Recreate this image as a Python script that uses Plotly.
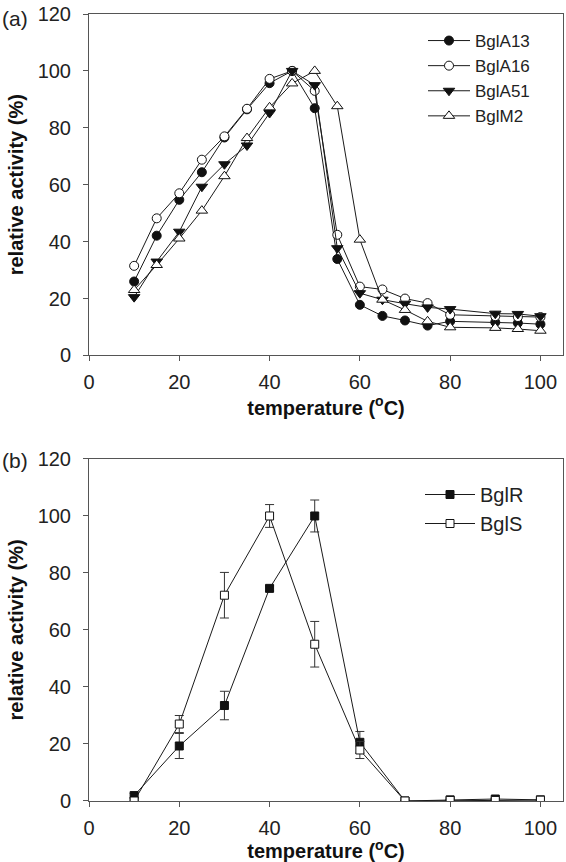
import plotly.graph_objects as go

# ---------------- data: panel (a) ----------------
temp_a = [10, 15, 20, 25, 30, 35, 40, 45, 50, 55, 60, 65, 70, 75, 80, 90, 95, 100]
bglA13 = [26, 42.1, 54.7, 64.4, 76.6, 86.5, 95.7, 100, 86.9, 33.9, 17.8, 13.9, 12.3, 10.5, 12.0, 11.7, 11.4, 11.0]
bglA16 = [31.5, 48.2, 57.0, 68.8, 77.0, 86.7, 97.2, 100, 93.0, 42.4, 24.2, 23.2, 20.0, 18.4, 14.3, 13.8, 13.5, 13.5]
bglA51 = [20.5, 33.0, 43.5, 59.3, 67.2, 73.8, 85.2, 100, 95.0, 37.7, 21.9, 19.6, 18.2, 16.9, 16.3, 14.7, 14.6, 13.8]
bglM2 = [23.0, 31.8, 41.1, 50.9, 63.0, 76.4, 87.2, 95.6, 100, 87.6, 40.7, 19.6, 16.0, 12.0, 9.9, 9.7, 9.3, 8.7]

# ---------------- data: panel (b) ----------------
temp_b = [10, 20, 30, 40, 50, 60, 70, 80, 90, 100]
bglR = [1.9, 19.3, 33.5, 74.6, 100, 20.6, 0.0, 0.4, 0.7, 0.4]
bglR_err = [0.8, 4.4, 5.0, 0.9, 5.6, 3.8, 0.2, 0.2, 0.2, 0.2]
bglS = [0.0, 27.0, 72.2, 100, 55.0, 17.9, 0.0, 0.2, 0.2, 0.3]
bglS_err = [0.2, 3.0, 8.0, 4.0, 8.0, 3.0, 0.2, 0.2, 0.2, 0.2]

x_ticks = [0, 20, 40, 60, 80, 100]
y_ticks = [0, 20, 40, 60, 80, 100, 120]

FONT = "Arial, Liberation Sans, sans-serif"
LINE = "#1a1a1a"
AX = "#555555"

fig = go.Figure()


def add(x, y, name, symbol, fill, xa, ya, legend, size, err=None):
    kw = {}
    if err is not None:
        kw["error_y"] = dict(type="data", array=err, visible=True, color="#333333",
                             thickness=1, width=4.5)
    fig.add_trace(go.Scatter(
        x=x, y=y, name=name, mode="lines+markers",
        xaxis=xa, yaxis=ya, legend=legend,
        line=dict(color=LINE, width=1),
        marker=dict(symbol=symbol, size=size, color=fill,
                    line=dict(color="#111111", width=1)),
        **kw))


add(temp_a, bglA13, "BglA13", "circle", "#111111", "x", "y", "legend", 9)
add(temp_a, bglA16, "BglA16", "circle", "white", "x", "y", "legend", 9)
add(temp_a, bglA51, "BglA51", "triangle-down", "#111111", "x", "y", "legend", 10)
add(temp_a, bglM2, "BglM2", "triangle-up", "white", "x", "y", "legend", 10)

add(temp_b, bglR, "BglR", "square", "#111111", "x2", "y2", "legend2", 8, bglR_err)
add(temp_b, bglS, "BglS", "square", "white", "x2", "y2", "legend2", 8, bglS_err)

axis_common = dict(showline=True, linecolor=AX, linewidth=1, mirror=True,
                   ticks="outside", ticklen=5, tickcolor=AX, tickwidth=1,
                   showgrid=False, zeroline=False,
                   tickfont=dict(family=FONT, size=20, color="#222222"))

title_font = dict(family=FONT, size=20, color="#111111")
XT = "<b>temperature (<sup>o</sup>C)</b>"
YT = "<b>relative activity (%)</b>"

fig.update_layout(
    width=566, height=862,
    margin=dict(l=89, r=3, t=14, b=61),
    paper_bgcolor="white", plot_bgcolor="white",
    xaxis=dict(domain=[0, 1], range=[0, 105], tickvals=x_ticks, anchor="y",
               title=dict(text=XT, font=title_font, standoff=6),
               ticklabelstandoff=4, **axis_common),
    yaxis=dict(domain=[0.5661, 1], range=[0, 120], tickvals=y_ticks, anchor="x",
               title=dict(text=YT, font=title_font, standoff=8),
               ticklabelstandoff=8, **axis_common),
    xaxis2=dict(domain=[0, 1], range=[0, 105], tickvals=x_ticks, anchor="y2",
                title=dict(text=XT, font=title_font, standoff=6),
                ticklabelstandoff=4, **axis_common),
    yaxis2=dict(domain=[0, 0.4346], range=[0, 120], tickvals=y_ticks, anchor="x2",
                title=dict(text=YT, font=title_font, standoff=8),
                ticklabelstandoff=8, **axis_common),
    legend=dict(x=(423 - 89) / 474, y=(801 - 23) / 787, xanchor="left", yanchor="top",
                font=dict(family=FONT, size=17, color="#222222"),
                bgcolor="rgba(0,0,0,0)", itemwidth=42, tracegroupgap=0),
    legend2=dict(x=(420 - 89) / 474, y=(801 - 475) / 787, xanchor="left", yanchor="top",
                 font=dict(family=FONT, size=20, color="#222222"),
                 bgcolor="rgba(0,0,0,0)", itemwidth=50, tracegroupgap=0),
    annotations=[
        dict(text="(a)", xref="paper", yref="paper", x=-89 / 474, y=(801 - 18) / 787,
             xanchor="left", yanchor="middle", showarrow=False,
             font=dict(family=FONT, size=21, color="#222222")),
        dict(text="(b)", xref="paper", yref="paper", x=-89 / 474, y=(801 - 461) / 787,
             xanchor="left", yanchor="middle", showarrow=False,
             font=dict(family=FONT, size=21, color="#222222")),
    ],
)

fig.write_html("out.html", config={"displayModeBar": False},
               post_script="document.body.style.margin='0';document.body.style.padding='0';")
